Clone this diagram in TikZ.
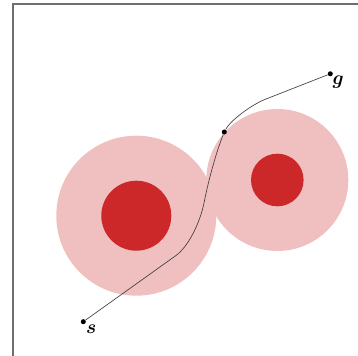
\documentclass[tikz,border=0pt]{standalone}
\usepackage{amsmath,amssymb,bm}
\usepackage{xcolor}
\usepackage{tikz}
\usetikzlibrary{positioning}
\definecolor{ringpink}{HTML}{F0C0C1}
\definecolor{corered}{HTML}{CD2829}
\definecolor{framegray}{HTML}{6E6E6E}

\begin{document}
\begin{tikzpicture}[
          x=0.75pt, y=-0.75pt,
          every node/.style={font=\Large},
          ring/.style={fill=ringpink},
          core/.style={fill=corered},
          waypt/.style={circle,fill=black,inner sep=0pt,minimum size=3.8pt},
          pathline/.style={draw=black!75,line width=0.5pt},
      ]
        \useasboundingbox (0,0) rectangle (358,356);
        \draw[framegray,line width=0.8pt] (358,4) -- (13,4) -- (13,356);

        % obstacles
        \fill[ring] (136.3,215.7) circle (80);
        \fill[ring] (277.3,180) circle (71);
        \fill[core] (136.3,215.7) circle (35);
        \fill[core] (277.3,180) circle (26.3);

        % start, via and goal
        \node[waypt,label={[label distance=-4pt]south east:$\bm{s}$}] (s) at (83.3,321.7) {};
        \node[waypt] (via) at (224.3,132) {};
        \node[waypt,label={[label distance=-4.5pt]south east:$\bm{g}$}] (g) at (330.3,73.8) {};

        \draw[pathline] (s) -- (176,255.5)
              .. controls (188,247) and (200,223) .. (204,203)
              .. controls (209,178) and (216.3,152) .. (via)
              .. controls (230,121) and (251,104.8) .. (266,99)
              -- (g);
      \end{tikzpicture}
\end{document}
